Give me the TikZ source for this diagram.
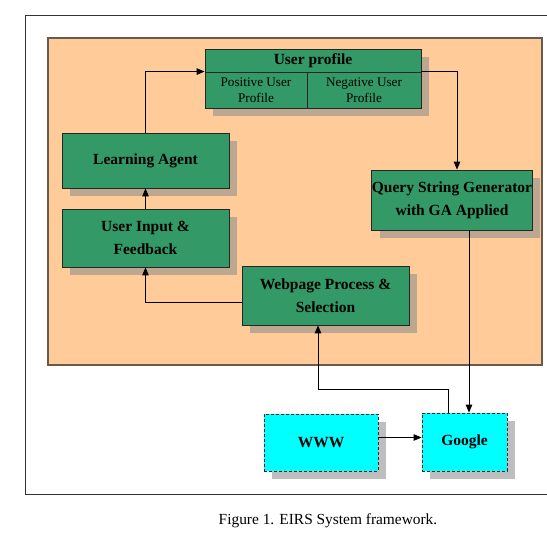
\documentclass[tikz,border=0pt]{standalone}
\usepackage{fontspec}
\setmainfont{Liberation Serif}
\usetikzlibrary{arrows}
\usetikzlibrary{shapes}
\usetikzlibrary{shadows}

\definecolor{peach}{RGB}{255,204,153}
\definecolor{seagreen}{RGB}{51,153,102}
\definecolor{aqua}{RGB}{0,255,255}
\definecolor{peachedge}{RGB}{105,90,75}
\definecolor{shadowgray}{RGB}{139,139,139}

\begin{document}
\begin{tikzpicture}[x = 1pt, y = -1pt, >=triangle 45]
	\tikzstyle{boxShadow}=[general shadow = {shadow xshift = 8pt, shadow yshift = -8pt, fill = shadowgray, opacity = 0.56}]
	\tikzstyle{greenStyle}=[shape = rectangle, draw = black!85, line width = 0.9pt, fill = seagreen, boxShadow, align = center, inner sep = 0pt, font = \fontsize{15.5}{23}\selectfont\bfseries]
	\tikzstyle{subStyle}=[greenStyle, font = \fontsize{13.2}{16}\selectfont]
	\tikzstyle{webStyle}=[greenStyle, fill = aqua, dash pattern = on 3pt off 2pt]
	\tikzstyle{linkStyle}=[draw, line width = 0.8pt]
	\useasboundingbox (0,0) rectangle (547,538);
	% frame and background
	\draw[line width = 0.9pt, black!80] (547,15) -- (25,15) -- (25,494) -- (547,494);
	\draw[fill = peach, draw = peachedge, line width = 1.1pt] (48,38) rectangle (542,365);
	% boxes
	\node[greenStyle, minimum width = 216pt, minimum height = 23pt] (proftitle) at (313,60.5) {User profile};
	\node[subStyle, minimum width = 102pt, minimum height = 36pt] (profpos) at (256,90) {Positive User\\Profile};
	\node[subStyle, minimum width = 114pt, minimum height = 36pt] (profneg) at (364,90) {Negative User\\Profile};
	\node[greenStyle, minimum width = 167pt, minimum height = 55pt] (la) at (145.5,160.5) {Learning Agent};
	\node[greenStyle, minimum width = 167pt, minimum height = 58pt] (ui) at (145.5,238) {User Input \&\\Feedback};
	\node[greenStyle, minimum width = 167pt, minimum height = 59pt] (wp) at (325.5,295.5) {Webpage Process \&\\Selection};
	\node[greenStyle, minimum width = 158pt, minimum height = 60pt] (qs) at (452,200) {Query String Generator\\with GA Applied};
	\node[webStyle, minimum width = 114pt, minimum height = 57pt] (www) at (321,442.5) {WWW};
	\node[webStyle, minimum width = 85pt, minimum height = 58pt] (ggl) at (464.5,442) {Google};
	% links
	\draw[linkStyle, ->] (la.north) |- (profpos.north west);
	\draw[linkStyle, ->] (profneg.north east) -| ([xshift = 5pt]qs.north);
	\draw[linkStyle, ->] (ui.north) -- (la.south);
	\draw[linkStyle, ->] ([yshift = -7pt]wp.west) -| (ui.south);
	\draw[linkStyle, ->] ([xshift = 17pt]qs.south) -- ([xshift = 4.5pt]ggl.north);
	\draw[linkStyle, ->] ([xshift = -16.5pt]ggl.north) -- ++(0,-23) -| ([xshift = -7.5pt]wp.south);
	\draw[linkStyle, ->] ([yshift = 5pt]www.east) -- ([yshift = 5pt]www.east -| ggl.west);
	% caption
	\node[font = \fontsize{15.4}{18}\selectfont] (cap) at (328,521) {Figure 1. EIRS System framework.};
\end{tikzpicture}
\end{document}
